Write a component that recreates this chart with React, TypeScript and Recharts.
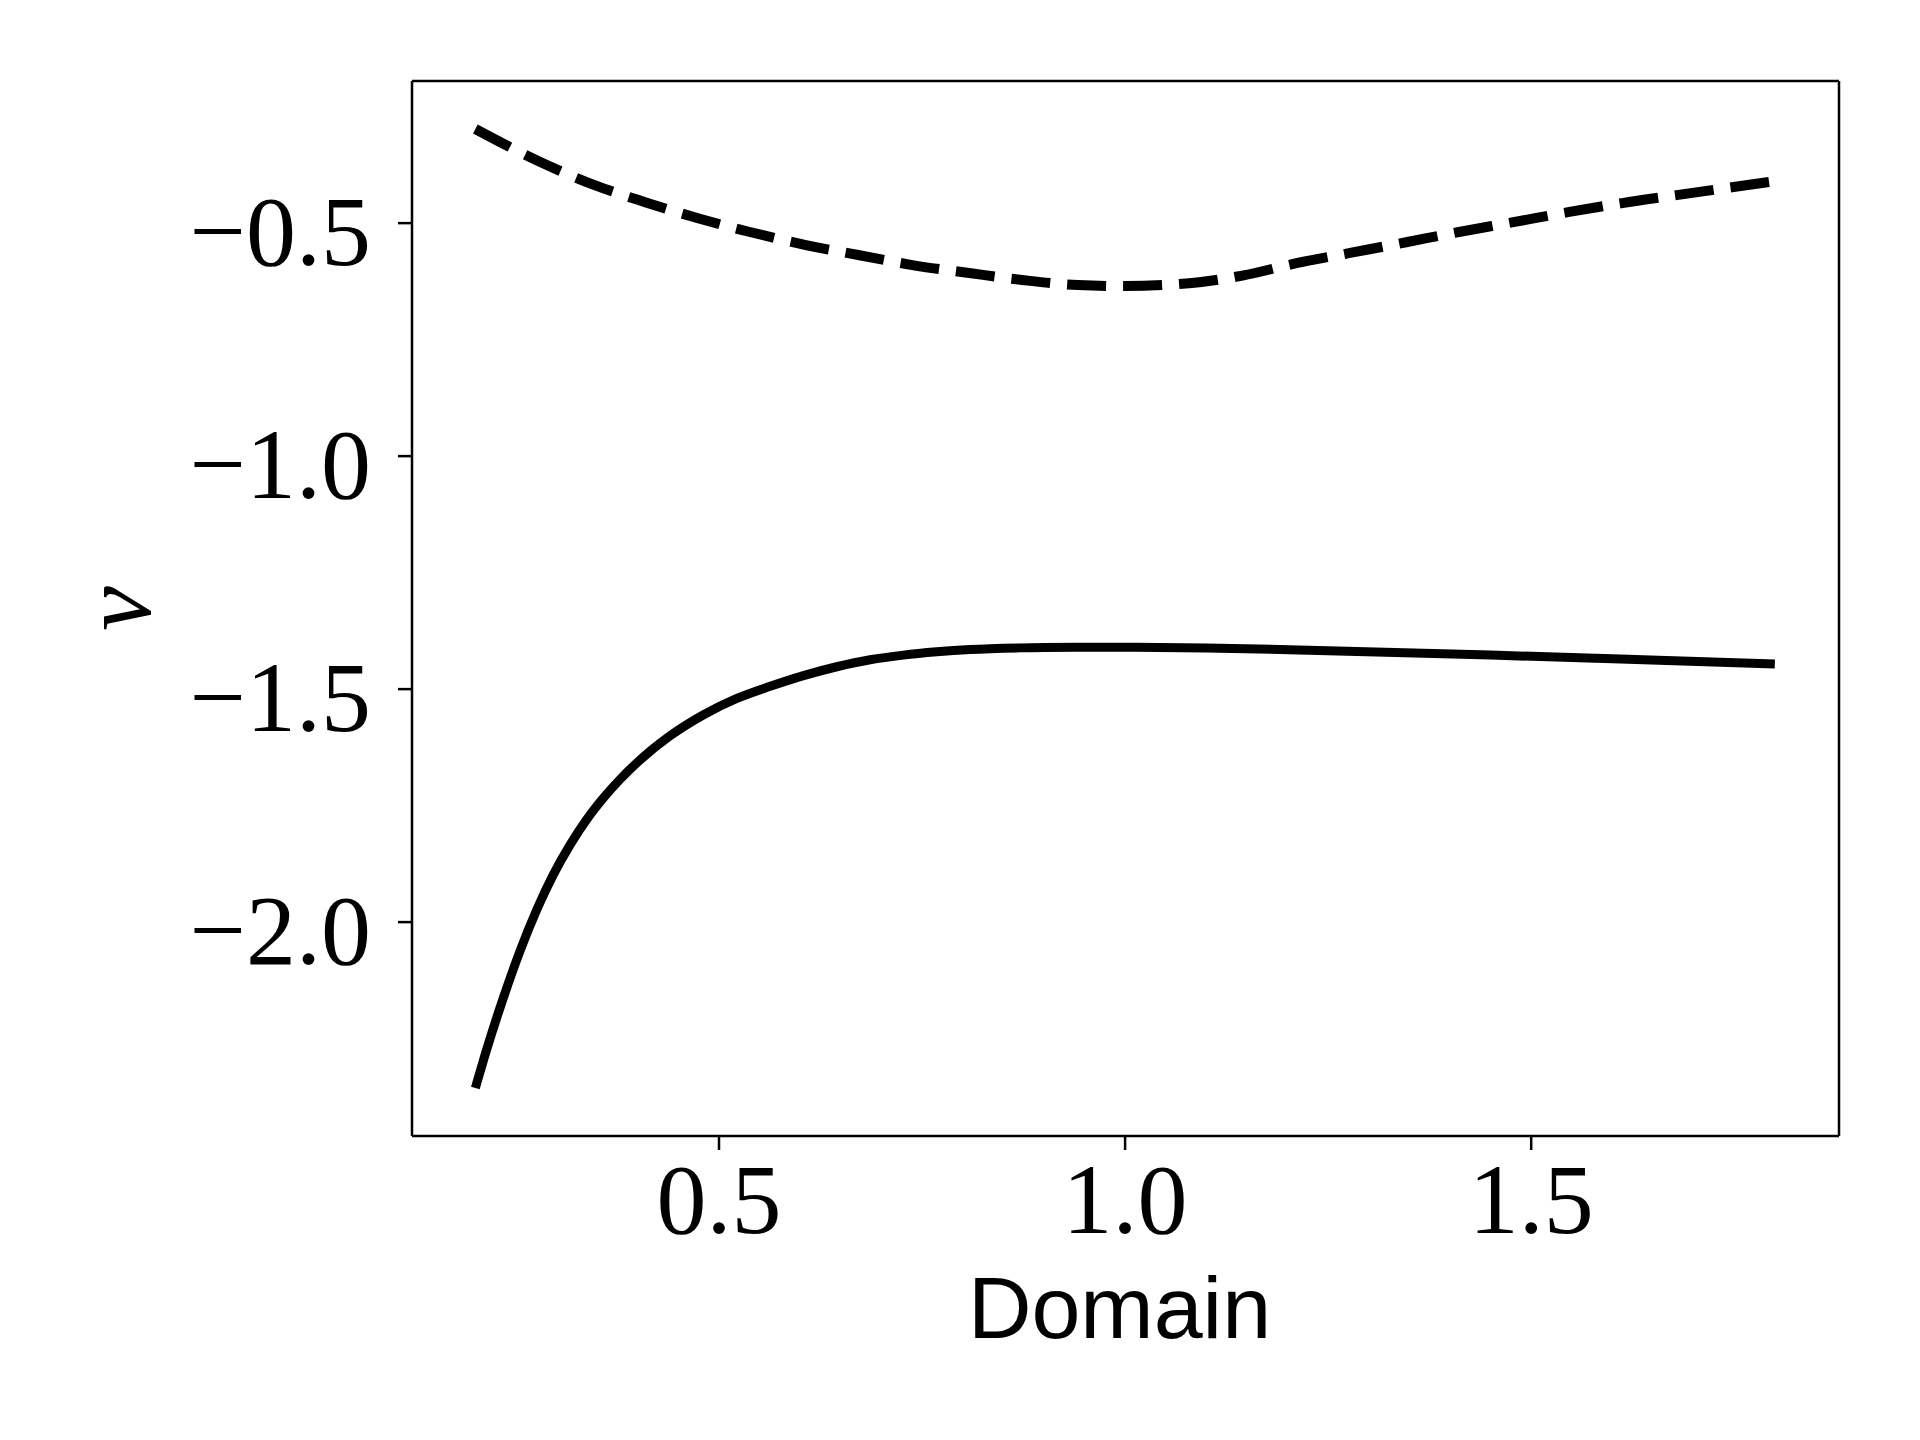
import { LineChart, Line, XAxis, YAxis, Label } from 'recharts';

// solid curve
const solidX = [0.2, 0.214, 0.234, 0.255, 0.276, 0.296, 0.317, 0.337, 0.358, 0.378, 0.399, 0.44, 0.481, 0.522, 0.563, 0.604, 0.645, 0.686, 0.727, 0.768, 0.809, 0.87, 0.94, 1.0, 1.1, 1.25, 1.45, 1.6, 1.8];
const solidY = [-2.356, -2.273, -2.165, -2.062, -1.972, -1.898, -1.833, -1.78, -1.733, -1.694, -1.658, -1.6, -1.555, -1.52, -1.494, -1.471, -1.452, -1.437, -1.427, -1.42, -1.415, -1.4115, -1.4102, -1.41, -1.4115, -1.4175, -1.427, -1.435, -1.446];

// dashed curve
const dashedX = [0.2, 0.28, 0.346, 0.409, 0.473, 0.538, 0.607, 0.673, 0.738, 0.808, 0.873, 0.942, 1.0, 1.079, 1.146, 1.211, 1.277, 1.346, 1.411, 1.478, 1.547, 1.612, 1.679, 1.747, 1.8];
const dashedY = [-0.298, -0.369, -0.418, -0.455, -0.489, -0.519, -0.547, -0.569, -0.59, -0.607, -0.622, -0.633, -0.635, -0.629, -0.612, -0.586, -0.564, -0.541, -0.519, -0.498, -0.476, -0.457, -0.44, -0.423, -0.41];

const xTicks = [0.5, 1.0, 1.5];
const yTicks = [-2.0, -1.5, -1.0, -0.5];

const solidData = solidX.map((x, i) => ({ x, v: solidY[i] }));
const dashedData = dashedX.map((x, i) => ({ x, v: dashedY[i] }));

const SERIF = '"Liberation Serif", "DejaVu Serif", serif';
const SANS = '"Liberation Sans", "DejaVu Sans", sans-serif';

const fmt = (n: number) => (n < 0 ? '\u2212' + Math.abs(n).toFixed(1) : n.toFixed(1));

const XTick = ({ x, y, payload }: any) => (
  <text x={x} y={y} dy={83} textAnchor="middle" fontFamily={SERIF} fontSize={100} fill="#000">
    {fmt(payload.value)}
  </text>
);

const YTick = ({ x, y, payload }: any) => (
  <text x={x} y={y} dy={42} textAnchor="end" fontFamily={SERIF} fontSize={100} fill="#000">
    {fmt(payload.value)}
  </text>
);

const XTitle = ({ viewBox }: any) => (
  <text x={viewBox.x + viewBox.width / 2 - 6} y={viewBox.y + 202} textAnchor="middle" fontFamily={SANS} fontSize={88} fill="#000">
    Domain
  </text>
);

const YTitle = ({ viewBox }: any) => {
  const cx = 116;
  const cy = viewBox.y + viewBox.height / 2;
  return (
    <text x={cx} y={cy} transform={`rotate(-90, ${cx}, ${cy})`} textAnchor="middle" dominantBaseline="central" fontFamily={SERIF} fontStyle="italic" fontSize={100} fill="#000">
      v
    </text>
  );
};

const axisLine = { stroke: '#000', strokeWidth: 2.5 };
const tickLine = { stroke: '#000', strokeWidth: 2.5 };

export default function App() {
  return (
    <div style={{ position: 'absolute', left: 0, top: 0, background: '#fff' }}>
      <LineChart width={1920} height={1440} margin={{ top: 80, right: 80, bottom: 0, left: 0 }}>
        <XAxis
          type="number"
          dataKey="x"
          domain={[0.122, 1.879]}
          ticks={xTicks}
          allowDataOverflow
          height={304}
          tickSize={14}
          tickMargin={0}
          axisLine={axisLine}
          tickLine={tickLine}
          tick={<XTick />}
        >
          <Label content={<XTitle />} />
        </XAxis>
        <XAxis xAxisId="top" orientation="top" type="number" dataKey="x" domain={[0.122, 1.879]} height={1} tick={false} tickLine={false} axisLine={axisLine} allowDataOverflow />
        <YAxis
          type="number"
          domain={[-2.459, -0.195]}
          ticks={yTicks}
          allowDataOverflow
          width={412}
          tickSize={14}
          tickMargin={27}
          axisLine={axisLine}
          tickLine={tickLine}
          tick={<YTick />}
        >
          <Label content={<YTitle />} />
        </YAxis>
        <YAxis yAxisId="right" orientation="right" type="number" domain={[-2.459, -0.195]} width={1} tick={false} tickLine={false} axisLine={axisLine} allowDataOverflow />
        <Line data={solidData} dataKey="v" type="monotone" stroke="#000" strokeWidth={9} dot={false} activeDot={false} isAnimationActive={false} />
        <Line data={dashedData} dataKey="v" type="monotone" stroke="#000" strokeWidth={10} strokeDasharray="39 17" dot={false} activeDot={false} isAnimationActive={false} />
      </LineChart>
    </div>
  );
}
